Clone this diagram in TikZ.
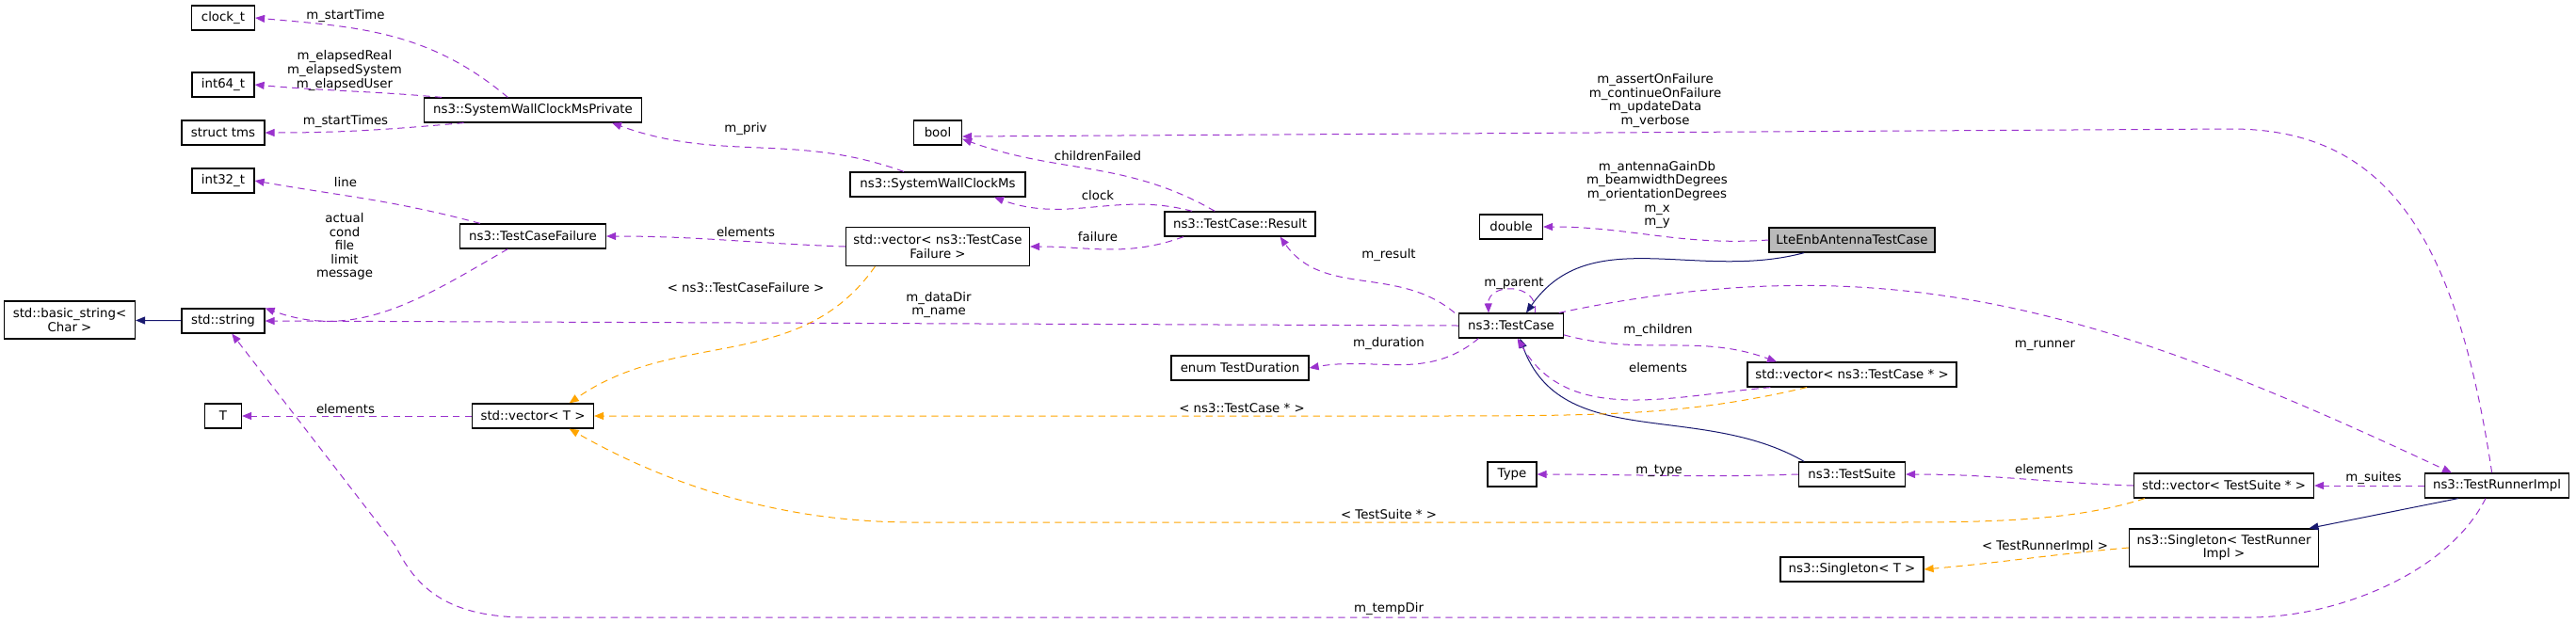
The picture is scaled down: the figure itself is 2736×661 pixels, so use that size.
\documentclass[tikz,border=0pt]{standalone}
\usepackage{fontspec}
\setmainfont{DejaVu Sans}
\usetikzlibrary{arrows.meta}
\definecolor{pur}{HTML}{9A32CD}
\definecolor{org}{HTML}{FFA500}
\definecolor{nav}{HTML}{191970}
\begin{document}
\begin{tikzpicture}[x=0.75pt,y=-0.75pt,
  every node/.style={font=\fontsize{10}{10.9}\selectfont},
  box/.style={draw, line width=0.9pt, inner sep=0pt, minimum height=19.5pt, minimum width=#1*0.75pt, align=center, fill=white},
  box/.default=60,
  mem/.style={-{Triangle[length=7.5pt,width=6pt,fill=pur]}, draw=pur, line width=0.75pt, dash pattern=on 5.5pt off 4pt},
  tpl/.style={-{Triangle[length=7.5pt,width=6pt,fill=org]}, draw=org, line width=0.75pt, dash pattern=on 5.5pt off 4pt},
  inh/.style={-{Triangle[length=7.5pt,width=6pt,fill=nav]}, draw=nav, line width=0.75pt},
  lbl/.style={align=center, inner sep=0pt}]
\useasboundingbox (0,0) rectangle (2736,661);
% nodes
\node[box=67] (clock) at (237,19) {clock\_t};
\node[box=66] (i64) at (237,90) {int64\_t};
\node[box=88] (tms) at (237,141) {struct tms};
\node[box=231] (swp) at (566,117) {ns3::SystemWallClockMsPrivate};
\node[box=66] (i32) at (237,192) {int32\_t};
\node[box=155] (tcf) at (566,251) {ns3::TestCaseFailure};
\node[box=139, minimum height=30pt] (bstr) at (74,340) {std::basic\_string\textless\\Char \textgreater};
\node[box=88] (str) at (237,341) {std::string};
\node[box=39] (T) at (237,442) {T};
\node[box=129] (vt) at (566,442) {std::vector\textless{} T \textgreater};
\node[box=195, minimum height=31pt] (vtcf) at (996,262) {std::vector\textless{} ns3::TestCase\\Failure \textgreater};
\node[box=186] (swc) at (996,196) {ns3::SystemWallClockMs};
\node[box=51] (bool) at (996,141) {bool};
\node[box=160] (res) at (1317,238) {ns3::TestCase::Result};
\node[box=67] (dbl) at (1605,241) {double};
\node[box=176, fill=black!27] (lte) at (1967,255) {LteEnbAntennaTestCase};
\node[box=111] (tc) at (1605,346) {ns3::TestCase};
\node[box=146] (td) at (1317,391) {enum TestDuration};
\node[box=222] (vtc) at (1967,398) {std::vector\textless{} ns3::TestCase * \textgreater};
\node[box=52] (type) at (1606,504) {Type};
\node[box=113] (ts) at (1967,504) {ns3::TestSuite};
\node[box=191] (vts) at (2362,516) {std::vector\textless{} TestSuite * \textgreater};
\node[box=153] (tri) at (2652,516) {ns3::TestRunnerImpl};
\node[box=201, minimum height=30pt] (stri) at (2362,582) {ns3::Singleton\textless{} TestRunner\\Impl \textgreater};
\node[box=152] (st) at (1967,605) {ns3::Singleton\textless{} T \textgreater};
% inheritance
\draw[inh] (str) -- (bstr);
\draw[inh] (lte.195) to[out=195,in=55] ([xshift=12pt]tc.north);
\draw[inh] (ts.165) to[out=150,in=-70] ([xshift=7pt]tc.south);
\draw[inh] ([xshift=27pt]tri.south west) -- ([xshift=-8pt]stri.north east);
% members
\draw[mem] ([xshift=-20pt]swp.north) to[out=140,in=-5] (clock.east)
  node[lbl, at={(367,17)}] {m\_startTime};
\draw[mem] (swp.172) to[out=175,in=-5] (i64.east)
  node[lbl, at={(366,75)}] {m\_elapsedReal\\m\_elapsedSystem\\m\_elapsedUser};
\draw[mem] ([xshift=-55pt]swp.south) to[out=185,in=0] (tms.east)
  node[lbl, at={(367,129)}] {m\_startTimes};
\draw[mem] ([xshift=-27pt]swc.north) to[out=160,in=-20] ([xshift=63pt]swp.south)
  node[lbl, at={(792,137)}] {m\_priv};
\draw[mem] ([xshift=-42pt]tcf.north) to[out=165,in=-10] (i32.east)
  node[lbl, at={(367,194)}] {line};
\draw[mem] ([xshift=-20pt]tcf.south) to[out=-150,in=-20] (str.north east)
  node[lbl, at={(366,262)}] {actual\\cond\\file\\limit\\message};
\draw[mem] (vtcf.west) to[out=178,in=0] (tcf.east)
  node[lbl, at={(792,247)}] {elements};
\draw[mem] ([xshift=-20pt]res.north) to[out=150,in=-20] ([yshift=-5pt]bool.east)
  node[lbl, at={(1166,166)}] {childrenFailed};
\draw[mem] (res.165) to[out=165,in=-20] ([xshift=45pt]swc.south)
  node[lbl, at={(1166,208)}] {clock};
\draw[mem] ([xshift=-45pt]res.south) to[out=-160,in=0] (vtcf.east)
  node[lbl, at={(1166,252)}] {failure};
\draw[mem] ([xshift=-45pt]tc.north) to[out=140,in=-55] ([xshift=32pt]res.south)
  node[lbl, at={(1475,271)}] {m\_result};
\draw[mem] ([xshift=19pt]tc.north) .. controls (1635,300) and (1580,300) .. ([xshift=-18pt]tc.north)
  node[lbl, at={(1608,301)}] {m\_parent};
\draw[mem] (tc.west) -- (str.east)
  node[lbl, at={(997,324)}] {m\_dataDir\\m\_name};
\draw[mem] ([xshift=-26pt]tc.south) to[out=-140,in=10] (td.east)
  node[lbl, at={(1475,365)}] {m\_duration};
\draw[mem] (tc.-10) to[out=-15,in=160] ([xshift=-60pt]vtc.north)
  node[lbl, at={(1761,351)}] {m\_children};
\draw[mem] ([xshift=-65pt]vtc.south) to[out=185,in=-60] ([xshift=5pt]tc.south)
  node[lbl, at={(1761,391)}] {elements};
\draw[mem] (tc.15) to[out=12,in=155] ([xshift=-36pt]tri.north)
  node[lbl, at={(2172,367)}] {m\_runner};
\draw[mem] (lte.west) to[out=184,in=0] (dbl.east)
  node[lbl, at={(1760,207)}] {m\_antennaGainDb\\m\_beamwidthDegrees\\m\_orientationDegrees\\m\_x\\m\_y};
\draw[mem] (ts.west) to[out=182,in=0] (type.east)
  node[lbl, at={(1762,500)}] {m\_type};
\draw[mem] (vts.west) to[out=178,in=0] (ts.east)
  node[lbl, at={(2171,499)}] {elements};
\draw[mem] (tri.west) -- (vts.east)
  node[lbl, at={(2521,508)}] {m\_suites};
\draw[mem] ([xshift=-4pt]tri.north) .. controls (2610,260) and (2540,137) .. (2370,137) -- ([yshift=-3pt]bool.east)
  node[lbl, at={(1758,107)}] {m\_assertOnFailure\\m\_continueOnFailure\\m\_updateData\\m\_verbose};
\draw[mem] ([xshift=-9pt]tri.south) .. controls (2600,610) and (2480,656) .. (2390,656) -- (560,656)
  .. controls (470,656) and (440,620) .. (420,580) -- ([xshift=7pt]str.south)
  node[lbl, at={(1475,647)}] {m\_tempDir};
\draw[mem] (vt.west) -- (T.east)
  node[lbl, at={(367,435)}] {elements};
% templates
\draw[tpl] ([xshift=-50pt]vtcf.south) to[out=-125,in=35] ([xshift=29pt]vt.north)
  node[lbl, at={(792,306)}] {\textless{} ns3::TestCaseFailure \textgreater};
\draw[tpl] ([xshift=-36pt]vtc.south) .. controls (1790,442) and (1700,442) .. (1500,442) -- (vt.east)
  node[lbl, at={(1319,434)}] {\textless{} ns3::TestCase * \textgreater};
\draw[tpl] ([xshift=-63pt]vts.south) .. controls (2200,555) and (2100,555) .. (2000,555) -- (970,555)
  .. controls (820,555) and (700,510) .. ([xshift=29pt]vt.south)
  node[lbl, at={(1475,547)}] {\textless{} TestSuite * \textgreater};
\draw[tpl] (stri.west) to[out=185,in=5] (st.east)
  node[lbl, at={(2172,581)}] {\textless{} TestRunnerImpl \textgreater};
\end{tikzpicture}
\end{document}
